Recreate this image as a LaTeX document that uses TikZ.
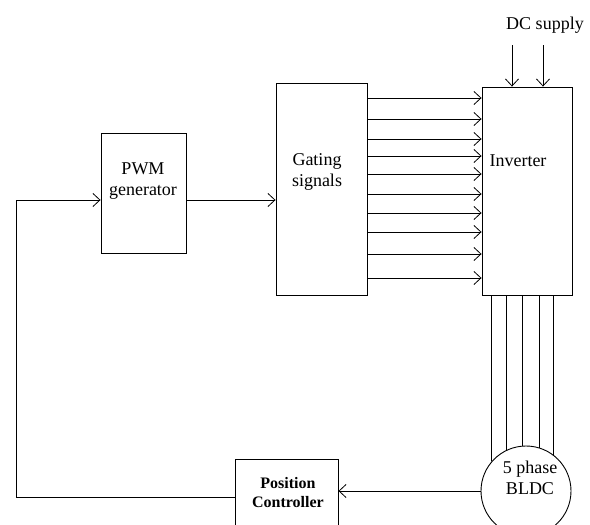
\documentclass[tikz,border=0pt]{standalone}
\usepackage{fontspec}
\setmainfont{Liberation Serif}
\usetikzlibrary{arrows.meta,positioning}
\tikzset{
  sigarrow/.style={-{Straight Barb[length=7pt,width=13pt,line width=0.8pt]},line width=0.9pt,draw=black},
  wire/.style={line width=0.9pt,draw=black},
  block/.style={draw=black,line width=0.9pt,fill=white,inner sep=0pt},
  blocktext/.style={align=center,inner sep=0pt,font=\fontsize{18}{21}\selectfont},
  boldtext/.style={align=center,inner sep=0pt,font=\fontsize{16}{19}\selectfont\bfseries},
  motorshape/.style={circle,draw=black,line width=0.9pt,minimum size=90pt,inner sep=0pt}
}

\begin{document}
\begin{tikzpicture}[x=1pt,y=-1pt]
  \useasboundingbox (0,0) rectangle (590,525);
  \begin{scope}
    \clip (0,0) rectangle (590,525);
    % blocks
    \node[block,minimum width=85pt,minimum height=120pt] (pwm) at (143.5,193) {};
    \node[block,minimum width=91pt,minimum height=212pt] (gate) at (321.5,189) {};
    \node[block,minimum width=90pt,minimum height=208pt] (inv) at (527,191) {};
    \node[block,minimum width=103pt,minimum height=86pt] (pos) at (286.5,502) {};
    \node[motorshape] (motor) at (526,491) {};
    % texts
    \node[blocktext] (pwmtxt) at (143,181) {PWM\\generator};
    \node[blocktext] (gatetxt) at (317,171.5) {Gating\\signals};
    \node[blocktext] (invtxt) at (518,161) {Inverter};
    \node[boldtext] (postxt) at (288,492.5) {Position\\Controller};
    \node[blocktext] (motortxt) at (530,477.5) {5 phase\\BLDC};
    \node[blocktext] (dctxt) at (545,25) {DC supply};
    % supply
    \coordinate (dca) at (512,45);
    \coordinate (dcb) at (543,45);
    \draw[sigarrow] (dca) -- (dca |- inv.north);
    \draw[sigarrow] (dcb) -- (dcb |- inv.north);
    % gating signals to inverter
    \foreach \y in {98,119,139,156,174,194,213,232,254,278}
      \draw[sigarrow] (gate.east |- 0,\y) -- (inv.west |- 0,\y);
    % five phases
    \foreach \a in {139,116,95,73,53}
      \draw[wire] (motor.\a) -- (motor.\a |- inv.south);
    % forward path
    \coordinate (fb) at (16,200);
    \draw[sigarrow] (pwm.east |- fb) -- (gate.west |- fb);
    \draw[sigarrow] (motor.west) -- (motor.west -| pos.east);
    \draw[sigarrow] (pos.west |- 0,497) -| (fb) -- (fb -| pwm.west);
  \end{scope}
\end{tikzpicture}
\end{document}
